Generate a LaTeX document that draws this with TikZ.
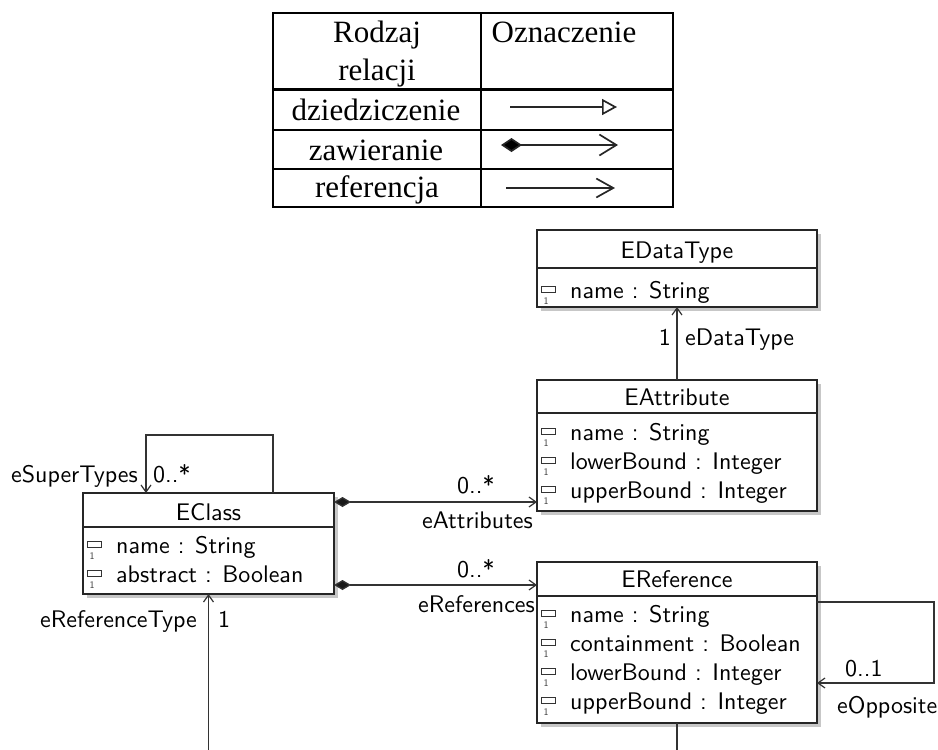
\documentclass[tikz,border=0pt]{standalone}
\usepackage{fontspec}
\setmainfont{Liberation Serif}
\newfontfamily\umlsans{lmsans10-regular.otf}
\usetikzlibrary{arrows.meta,shadows}

\tikzset{
  tabtxt/.style={font=\fontsize{31}{36}\selectfont, inner sep=0pt, anchor=base},
  tabline/.style={line width=2pt, draw=black},
  tabarrow/.style={line width=1.7pt, draw=black!85},
  umltxt/.style={font=\umlsans\fontsize{24}{29}\selectfont, inner sep=0pt, text=black},
  classbox/.style={draw=black!85, line width=1.4pt, fill=white, anchor=north west,
    inner sep=0pt, outer sep=0pt,
    drop shadow={shadow xshift=3.5pt, shadow yshift=-3.5pt, fill=black!22, opacity=1}},
  sepline/.style={draw=black!85, line width=1.3pt},
  conn/.style={draw=black!80, line width=1.3pt},
  ref/.style={conn, -{Straight Barb[length=7pt,width=10pt,line width=1.2pt]}},
  cont/.style={conn, {Diamond[length=17pt,width=10pt,fill=black!90]}-{Straight Barb[length=7pt,width=10pt,line width=1.2pt]}},
}

% attribute row: name, box left x, baseline y, text
\newcommand\attrrow[4]{%
  \draw[line width=0.9pt, draw=black!80, fill=white] (#2+4,#3-12) rectangle (#2+18,#3-6);
  \node[font=\umlsans\fontsize{10}{10}\selectfont, inner sep=0pt, anchor=base, text=black!80]
    (#1m) at (#2+9,#3+6) {1};
  \node[umltxt, anchor=base west] (#1) at (#2+33,#3) {#4};
}

\begin{document}
\begin{tikzpicture}[x=1pt,y=-1pt]
\useasboundingbox (0,0) rectangle (938,750);

% ---------- legend table ----------
\draw[tabline] (273,13) rectangle (673,207);
\draw[tabline] (481,13) -- (481,207);
\draw[tabline, line width=3pt] (273,89) -- (673,89);
\draw[tabline] (273,130) -- (673,130);
\draw[tabline] (273,169) -- (673,169);

\node[tabtxt] (hkind) at (377,42) {Rodzaj};
\node[tabtxt] (hkindb) at (377,80) {relacji};
\node[tabtxt] (hmark) at (564,42) {Oznaczenie};
\node[tabtxt] (rinh) at (376,120) {dziedziczenie};
\node[tabtxt] (rcont) at (376,160) {zawieranie};
\node[tabtxt] (rref) at (377,197) {referencja};

\coordinate (inhA) at (510,107);
\coordinate (inhB) at (617,107);
\coordinate (contA) at (501,145);
\coordinate (contB) at (618,145);
\coordinate (refA) at (506,188);
\coordinate (refB) at (615,188);
\draw[tabarrow, -{Triangle[open,length=15pt,width=16pt,line width=1.7pt]}] (inhA) -- (inhB);
\draw[tabarrow, {Diamond[length=21pt,width=14pt,fill=black]}-{Straight Barb[length=17pt,width=21pt,line width=1.7pt]}] (contA) -- (contB);
\draw[tabarrow, -{Straight Barb[length=17pt,width=19pt,line width=1.7pt]}] (refA) -- (refB);

% ---------- classes ----------
\node[classbox, minimum width=280, minimum height=77] (edt) at (537,230) {};
\draw[sepline] (edt.west |- 0,268) -- (edt.east |- 0,268);
\node[umltxt, anchor=base] (edtT) at (677,258) {EDataType};
\attrrow{edtA}{537}{298}{name : String}

\node[classbox, minimum width=280, minimum height=131] (eattr) at (537,380) {};
\draw[sepline] (eattr.west |- 0,413) -- (eattr.east |- 0,413);
\node[umltxt, anchor=base] (eattrT) at (677,405) {EAttribute};
\attrrow{eattrA}{537}{440}{name : String}
\attrrow{eattrB}{537}{469}{lowerBound : Integer}
\attrrow{eattrC}{537}{498}{upperBound : Integer}

\node[classbox, minimum width=251, minimum height=101] (eclass) at (83,493) {};
\draw[sepline] (eclass.west |- 0,527) -- (eclass.east |- 0,527);
\node[umltxt, anchor=base] (eclassT) at (208.5,520) {EClass};
\attrrow{eclassA}{83}{553}{name : String}
\attrrow{eclassB}{83}{582}{abstract : Boolean}

\node[classbox, minimum width=280, minimum height=161] (eref) at (537,562) {};
\draw[sepline] (eref.west |- 0,596) -- (eref.east |- 0,596);
\node[umltxt, anchor=base] (erefT) at (677,587) {EReference};
\attrrow{erefA}{537}{622}{name : String}
\attrrow{erefB}{537}{651}{containment : Boolean}
\attrrow{erefC}{537}{680}{lowerBound : Integer}
\attrrow{erefD}{537}{709}{upperBound : Integer}

% ---------- connectors ----------
\draw[ref] (eattr.north) -- (edt.south);
\node[umltxt, anchor=base east] (dtMul) at (671,345) {1};
\node[umltxt, anchor=base west] (dtRole) at (685,345) {eDataType};

\draw[ref] (eclass.north -| 273,0) -- ++(0,-58) -| (eclass.north -| 146,0);
\node[umltxt, anchor=base east] (stRole) at (138,482) {eSuperTypes};
\node[umltxt, anchor=base west] (stMul) at (153,482) {0..*};

\draw[cont] (eclass.east |- 0,502) -- (eattr.west |- 0,502);
\node[umltxt, anchor=base west] (atMul) at (457,493) {0..*};
\node[umltxt, anchor=base east] (atRole) at (533,528) {eAttributes};

\draw[cont] (eclass.east |- 0,585) -- (eref.west |- 0,585);
\node[umltxt, anchor=base west] (rfMul) at (457,577) {0..*};
\node[umltxt, anchor=base east] (rfRole) at (535,612) {eReferences};

\draw[ref] (eref.east |- 0,602) -- ++(117,0) |- (eref.east |- 0,683);
\node[umltxt, anchor=base west] (opMul) at (845,676) {0..1};
\node[umltxt, anchor=base west] (opRole) at (837,713) {eOpposite};

\coordinate (cutA) at (677,750);
\coordinate (cutB) at (208.5,750);
\draw[conn] (eref.south) -- (cutA);
\draw[ref] (cutB) -- (eclass.south);
\node[umltxt, anchor=base east] (rtRole) at (197,627) {eReferenceType};
\node[umltxt, anchor=base west] (rtMul) at (218,627) {1};
\end{tikzpicture}
\end{document}
